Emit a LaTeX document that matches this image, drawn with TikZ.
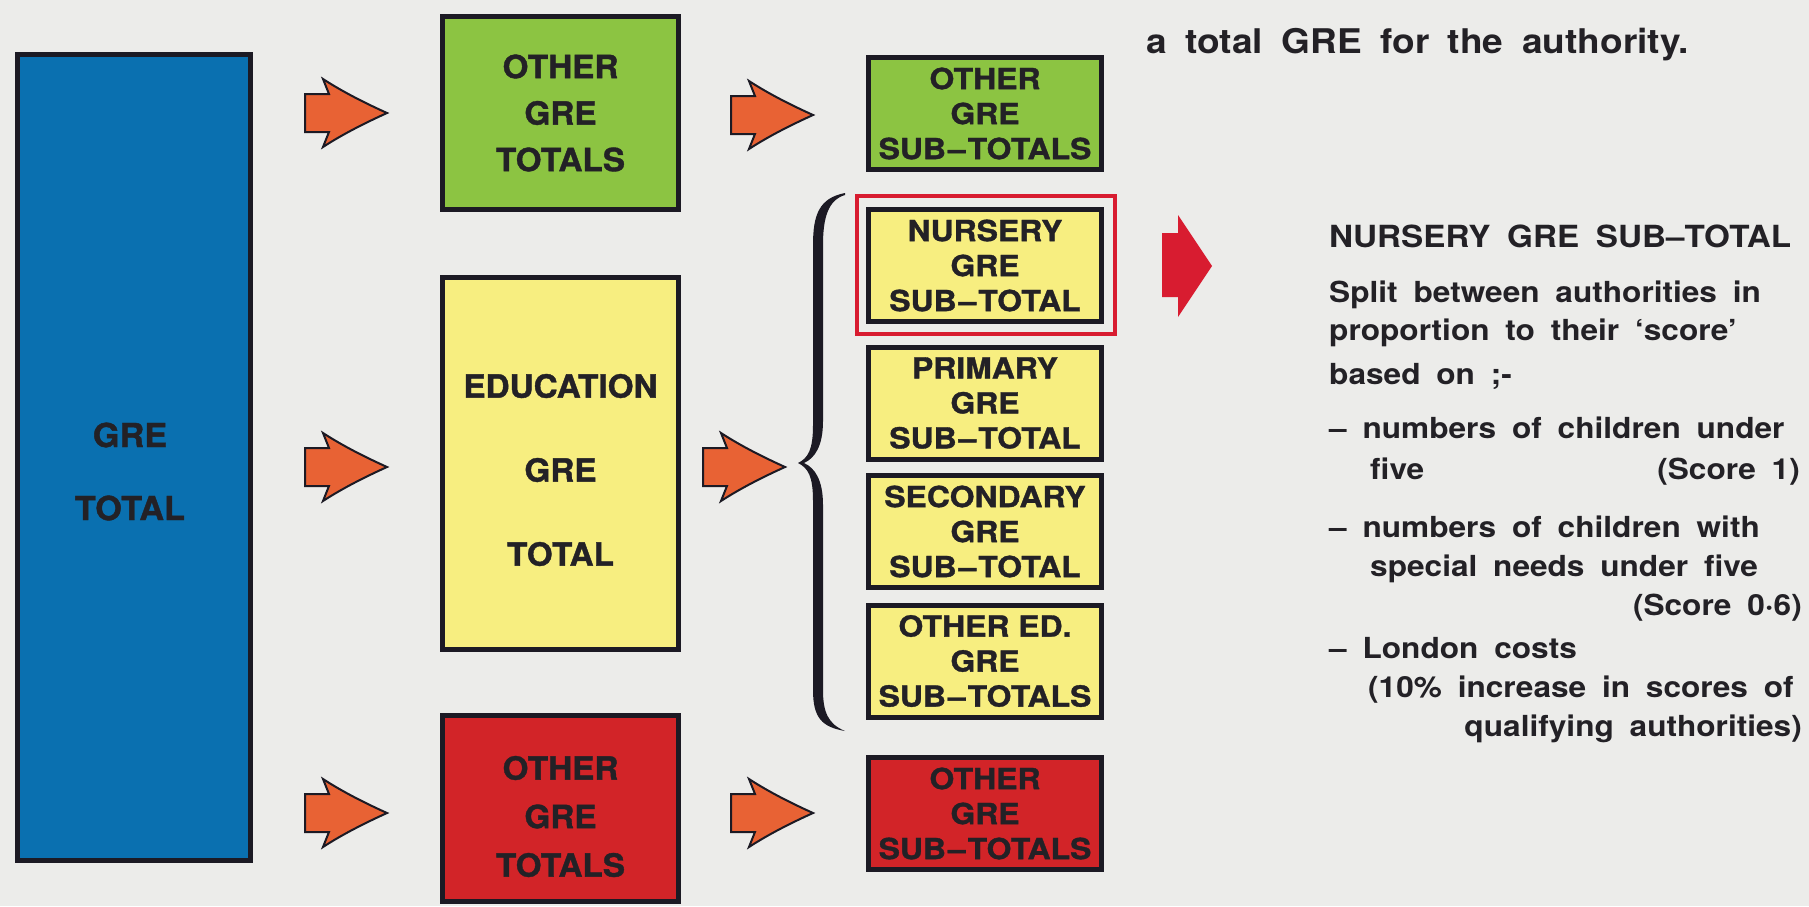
\documentclass[tikz,border=0pt]{standalone}
\usepackage{fontspec}
\setmainfont{TeX Gyre Heros}
\newfontfamily\boxfont[Ligatures=TeX,FakeStretch=1.04,FakeBold=1.2]{TeX Gyre Heros}
\newfontfamily\subfont[Ligatures=TeX,FakeStretch=1.1,FakeBold=1.2]{TeX Gyre Heros}
\newfontfamily\notefont[Ligatures=TeX,FakeStretch=1.09,WordSpace=1.8]{TeX Gyre Heros}

\definecolor{paper}{RGB}{236,236,234}
\definecolor{edge}{RGB}{28,26,36}
\definecolor{ink}{RGB}{35,33,38}
\definecolor{gblue}{RGB}{10,112,176}
\definecolor{ggreen}{RGB}{140,196,66}
\definecolor{gyellow}{RGB}{247,238,128}
\definecolor{gred}{RGB}{210,36,40}
\definecolor{garrow}{RGB}{232,98,52}
\definecolor{bigred}{RGB}{216,28,48}

\newcommand{\subdash}{\kern2pt–\kern2pt}

\tikzset{
    box/.style={draw=edge, line width=5pt, inner sep=0pt, text=ink},
    mainbox/.style={box, minimum width=236pt},
    maintext/.style={inner sep=0pt, text=ink, align=center},
    subbox/.style={box, fill=gyellow, minimum width=233pt, minimum height=112pt,
        align=center, font=\subfont\bfseries\fontsize{29}{35}\selectfont},
    note/.style={inner sep=0pt, text=ink, anchor=base west,
        font=\notefont\bfseries\fontsize{29}{35}\selectfont},
    tip/.style={fill=garrow, draw=edge, line width=2pt, line join=miter}
}

\begin{document}
\begin{tikzpicture}[x=1pt,y=-1pt]
        \fill [paper] (0,0) rectangle (1809,906);
        \useasboundingbox (0,0) rectangle (1809,906);

        \node [box, fill=gblue, minimum width=233pt, minimum height=806pt] (gre) at (134,457.5) {};
        \node [maintext, font=\boxfont\bfseries\fontsize{33}{73}\selectfont] (gretxt) at (130,471.5) {GRE\\TOTAL};

        \node [mainbox, fill=ggreen, minimum height=193pt, align=center,
            font=\boxfont\bfseries\fontsize{32}{46.5}\selectfont] (oth) at (560.5,113) {OTHER\\GRE\\TOTALS};
        \node [mainbox, fill=gyellow, minimum height=372pt] (edu) at (560.5,463.5) {};
        \node [maintext, font=\boxfont\bfseries\fontsize{32}{84}\selectfont] (edutxt) at (560.5,470) {EDUCATION\\GRE\\TOTAL};
        \node [mainbox, fill=gred, minimum height=186pt] (red) at (560.5,808.5) {};
        \node [maintext, font=\boxfont\bfseries\fontsize{32}{48.5}\selectfont] (redtxt) at (560.5,816.5) {OTHER\\GRE\\TOTALS};

        \node [draw=bigred, line width=4pt, inner sep=0pt, minimum width=258pt, minimum height=138pt] (hl) at (986,265) {};
        \node [subbox, fill=ggreen] (othsub) at (985,113.5) {OTHER\\GRE\\SUB\subdash TOTALS};
        \node [subbox] (nur) at (985,265.5) {NURSERY\\GRE\\SUB\subdash TOTAL};
        \node [subbox] (pri) at (985,403) {PRIMARY\\GRE\\SUB\subdash TOTAL};
        \node [subbox] (sec) at (985,531.5) {SECONDARY\\GRE\\SUB\subdash TOTAL};
        \node [subbox] (oed) at (985,661) {OTHER ED.\\GRE\\SUB\subdash TOTALS};
        \node [subbox, fill=gred] (redsub) at (985,813.5) {OTHER\\GRE\\SUB\subdash TOTALS};

        \foreach \tx/\ty in {387/113, 813/115, 387/467, 785/467, 387/813, 813/813}
            \filldraw [tip, shift={(\tx,\ty)}] (0,0) .. controls (-22,-10) and (-44,-21) .. (-64,-34)
                -- (-58,-19) -- (-82,-19) -- (-82,19) -- (-58,19) -- (-64,34)
                .. controls (-44,21) and (-22,10) .. cycle;

        \fill [edge] (845,193) .. controls (819,198) and (813,215) .. (813,245) -- (813,425)
            .. controls (813,450) and (808,458) .. (798,463) .. controls (808,468) and (813,476) .. (813,501)
            -- (813,690) .. controls (813,718) and (822,727) .. (845,731)
            .. controls (828,724) and (823,712) .. (823,690) -- (823,505)
            .. controls (823,480) and (815,468) .. (804,463) .. controls (815,458) and (823,446) .. (823,421)
            -- (823,245) .. controls (823,218) and (828,200) .. (845,195) -- cycle;

        \fill [bigred] (1212,266) -- (1178,215) -- (1178,233) -- (1162,233) -- (1162,297)
            -- (1178,297) -- (1178,317) -- cycle;

        \node [note, font=\notefont\bfseries\fontsize{34}{40}\selectfont] (top) at (1146,53) {a total GRE for the authority.};
        \node [note, font=\notefont\bfseries\fontsize{30.5}{35}\selectfont] (nsub) at (1329,247) {NURSERY GRE SUB–TOTAL};
        \node [note] (l1) at (1329,302) {Split between authorities in};
        \node [note] (l2) at (1329,340) {proportion to their ‘score’};
        \node [note] (l3) at (1329,384) {based on ;-};
        \node [note] (l4) at (1329,438) {– numbers of children under};
        \node [note] (l5) at (1370,479) {five};
        \node [note, anchor=base east] (s1) at (1800,479) {(Score 1)};
        \node [note] (l6) at (1329,537) {– numbers of children with};
        \node [note] (l7) at (1370,576) {special needs under five};
        \node [note, anchor=base east] (s2) at (1802,615) {(Score 0·6)};
        \node [note] (l8) at (1329,658) {– London costs};
        \node [note] (l9) at (1368,697) {(10\% increase in scores of};
        \node [note, anchor=base east] (l10) at (1802,736) {qualifying authorities)};

    \end{tikzpicture}
\end{document}
